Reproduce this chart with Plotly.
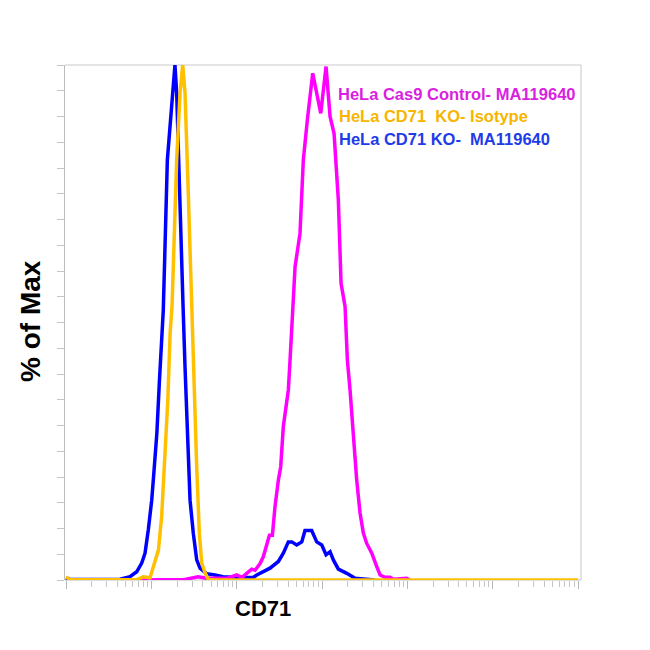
import plotly.graph_objects as go

# ---- data (CD71 fluorescence intensity, % of Max) ----
blue_name = "HeLa CD71 KO-  MA119640"
blue_x = [1.0, 1.11, 2.5, 4.3, 5.62, 6.74, 7.71, 8.43, 9.2, 10.1, 10.7, 11.6, 12.4, 13.2, 13.8,
          15.4, 17.8, 18.9, 19.8, 21.7, 23.5, 24.8, 26.4, 28.4, 31.0, 34.0, 37.2, 44.5, 55.7,
          69.2, 90.6, 131, 156, 172, 205, 246, 308, 352, 403, 442, 505, 579, 632, 757, 867,
          993, 1115, 1242, 1358, 1553, 1950, 2440, 3050, 4180]
blue_y = [0.4, 0.1, 0.1, 0.14, 0.64, 1.6, 3.3, 5.2, 9.7, 15.5, 20.8, 28.5, 38.3, 48.0, 52.4,
          81.6, 94.6, 100, 94.6, 75.1, 53.4, 41.4, 28.5, 15.5, 9.1, 3.9, 2.3, 1.2, 0.97,
          0.64, 0.52, 0.49, 0.49, 0.97, 1.6, 2.3, 3.6, 5.2, 7.4, 7.4, 6.8, 7.4, 9.6, 9.6, 7.4,
          6.8, 4.9, 5.5, 3.9, 2.1, 1.3, 0.33, 0.19, 0.0]

orange_name = "HeLa CD71  KO- Isotype"
orange_x = [1.0, 1.11, 6.8, 7.36, 8.05, 9.64, 10.5, 12.1, 13.2, 14.5, 15.6, 16.6, 17.5, 19.8,
            21.7, 23.3, 24.8, 27.1, 29.7, 31.6, 34.0, 36.5, 38.9, 42.6, 46.5, 55.7, 1.0e6]
orange_y = [0.58, 0.1, 0.06, 0.33, 0.64, 0.45, 2.6, 5.8, 12.3, 25.2, 35.0, 48.0, 53.4, 81.6,
            94.6, 100, 94.6, 75.1, 52.8, 41.4, 21.9, 9.1, 3.3, 1.4, 0.1, 0.0, 0.0]

magenta_name = "HeLa Cas9 Control- MA119640"
magenta_x = [7.2, 17.9, 24.8, 35.2, 44.5, 63.8, 76.4, 100, 115, 131, 150, 164, 188, 205, 225,
             242, 262, 281, 308, 328, 352, 386, 403, 422, 483, 552, 604, 673, 778, 966, 1115,
             1242, 1384, 1553, 1671, 1862, 1982, 2130, 2330, 2550, 2790, 3050, 3340, 3830,
             4380, 4790, 5480, 6270, 6850, 8210, 9840, 10700]
magenta_y = [0.0, 0.14, 0.1, 0.64, 0.33, 0.33, 0.33, 0.97, 0.49, 1.3, 2.1, 1.9, 3.2, 4.5, 7.1,
             8.7, 8.7, 14.2, 19.4, 22.0, 29.8, 35.0, 36.9, 42.7, 60.8, 67.3, 81.6, 89.3, 98.4,
             90.6, 99.7, 90.0, 86.7, 73.8, 57.6, 53.1, 42.7, 36.9, 27.2, 19.4, 13.0, 9.1, 7.1,
             5.2, 2.6, 0.97, 0.52, 0.52, 0.14, 0.25, 0.33, 0.0]

x_title = "CD71"
y_title = "% of Max"

# ---- colours ----
C_BLUE, C_ORANGE, C_MAG = "#0000FF", "#FFC000", "#FF00FF"
T_BLUE, T_ORANGE, T_MAG = "#1E3CE8", "#F7B500", "#D91FE0"

fig = go.Figure()
for xs, ys, col, nm in [(blue_x, blue_y, C_BLUE, blue_name),
                        (magenta_x, magenta_y, C_MAG, magenta_name),
                        (orange_x, orange_y, C_ORANGE, orange_name)]:
    fig.add_trace(go.Scatter(x=xs, y=ys, mode="lines", name=nm,
                             line=dict(color=col, width=3.5), cliponaxis=False,
                             hoverinfo="skip"))

decades = list(range(0, 7))
major_vals = [10 ** d for d in decades]
minor_vals = [k * 10 ** d for d in decades[:-1] for k in range(2, 10)]

leg_font = dict(size=16.5, family="Liberation Sans, Arial", weight="bold")

fig.update_layout(
    width=650, height=650,
    margin=dict(l=57, r=77, t=57, b=78),
    paper_bgcolor="white", plot_bgcolor="white",
    showlegend=False,
    font=dict(family="Liberation Sans, Arial, sans-serif"),
    xaxis=dict(type="log", range=[-0.012, 6.035], showgrid=False, zeroline=False,
               showline=False, ticks="outside", ticklen=8, tickcolor="#b8b8b8",
               tickvals=major_vals, showticklabels=False,
               minor=dict(ticks="outside", ticklen=6, tickcolor="#c4c4c4",
                          tickvals=minor_vals, showgrid=False)),
    yaxis=dict(range=[0, 100], showgrid=False, zeroline=False,
               showline=True, linecolor="#bdbdbd", linewidth=1,
               ticks="outside", ticklen=7, tickcolor="#c4c4c4", dtick=5,
               showticklabels=False),
    shapes=[
        dict(type="line", xref="paper", yref="paper", x0=0, x1=1, y0=1, y1=1,
             line=dict(color="#e4e4e4", width=2), layer="below"),
        dict(type="line", xref="paper", yref="paper", x0=1, x1=1, y0=0, y1=1,
             line=dict(color="#c8c8c8", width=1), layer="below"),
        dict(type="line", xref="paper", yref="paper", x0=0, x1=1, y0=0, y1=0,
             line=dict(color="#bdbdbd", width=1), layer="below"),
    ],
    annotations=[
        dict(text=magenta_name, x=(336 - 65) / 516, y=(580 - 94) / 515, xref="paper", yref="paper",
             xanchor="left", yanchor="middle", showarrow=False,
             font=dict(color=T_MAG, **leg_font)),
        dict(text=orange_name, x=(337 - 65) / 516, y=(580 - 116.5) / 515, xref="paper", yref="paper",
             xanchor="left", yanchor="middle", showarrow=False,
             font=dict(color=T_ORANGE, **leg_font)),
        dict(text=blue_name, x=(337 - 65) / 516, y=(580 - 139) / 515, xref="paper", yref="paper",
             xanchor="left", yanchor="middle", showarrow=False,
             font=dict(color=T_BLUE, **leg_font)),
        dict(text="<b>%s</b>" % x_title, x=(263 - 65) / 516, y=(580 - 608) / 515,
             xref="paper", yref="paper",
             xanchor="center", yanchor="middle", showarrow=False,
             font=dict(size=22, color="black", family="Liberation Sans, Arial")),
        dict(text="<b>%s</b>" % y_title, x=(30 - 65) / 516, y=(580 - 321) / 515,
             xref="paper", yref="paper",
             xanchor="center", yanchor="middle", showarrow=False, textangle=-90,
             font=dict(size=28, color="black", family="Liberation Sans, Arial")),
    ],
)

fig.write_html("out.html")
